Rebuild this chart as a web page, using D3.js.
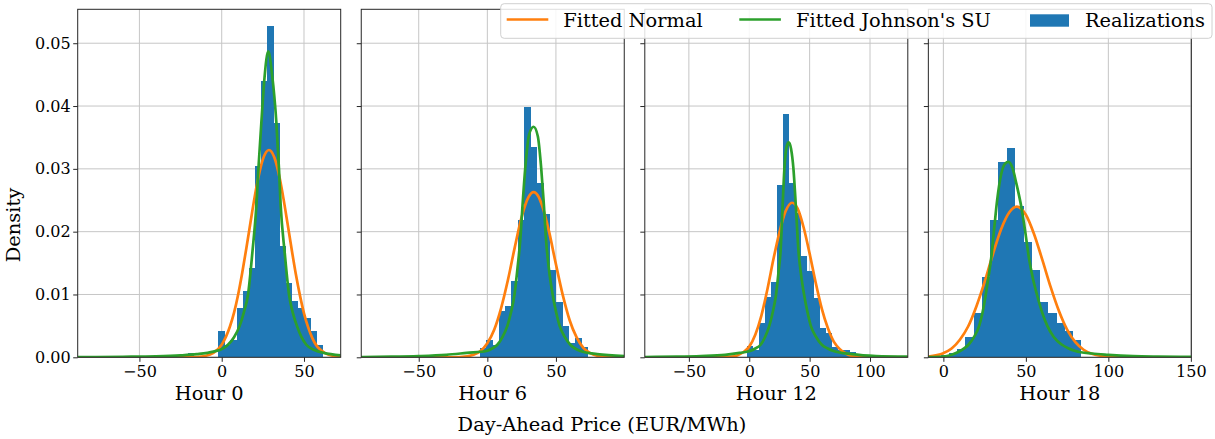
<!DOCTYPE html>
<html><head><meta charset="utf-8">
<script src="https://cdn.jsdelivr.net/npm/d3@7"></script>
<style>
html,body{margin:0;padding:0;background:#fff;}
text{font-family:"DejaVu Serif",serif;fill:#000;}
</style></head>
<body>
<svg id="chart" width="1215" height="439"></svg>
<script>
// ---------- data ----------
const panelTitles = ["Hour 0", "Hour 6", "Hour 12", "Hour 18"];
const xMin = [-87.5, -91.9, -86.5, -9.1];
const xMax = [72.3, 99.8, 131.3, 150.3];
const xTicks = [[-50, 0, 50], [-50, 0, 50], [-50, 0, 50, 100], [0, 50, 100, 150]];
const yTicks = [0, 0.01, 0.02, 0.03, 0.04, 0.05];
const yMax = 0.0554;

const histStart = [-20.7, -5.58, -2.2, -1.6];
const histWidth = [3.72, 4.63, 5.0, 5.0];
const hist0 = [0.0007, 0, 0, 0, 0, 0.0042, 0.0019, 0.0028, 0.0079, 0.0106, 0.0142, 0.0305, 0.0440, 0.0528, 0.0373, 0.0177, 0.0119, 0.0090, 0.0078, 0.0063, 0.0042, 0.0020];
const hist6 = [0.0015, 0.0028, 0.0020, 0.0073, 0.0081, 0.0122, 0.0219, 0.0399, 0.0334, 0.0277, 0.0228, 0.0139, 0.0088, 0.0050, 0.0022, 0.0031, 0.0017];
const hist12 = [0.0018, 0.0011, 0.0055, 0.0096, 0.0120, 0.0274, 0.0387, 0.0278, 0.0229, 0.0161, 0.0138, 0.0094, 0.0046, 0.0038, 0.0017, 0.0012, 0.0011, 0.0009];
const hist18 = [0.0003, 0.0007, 0.0013, 0.0033, 0.0071, 0.0128, 0.0218, 0.0311, 0.0333, 0.0241, 0.0183, 0.0139, 0.0088, 0.0071, 0.0055, 0.0042, 0.0028];

// fitted normal curves (x, density)
const normal0 = [[-87.5,0],[-30,0],[-15,0.00005],[-10,0.0002],[-5,0.0007],[0,0.0020],[5,0.0049],[7.5,0.0071],[10,0.0100],[12.5,0.0135],[15,0.0174],[17.5,0.0215],[20,0.0255],[22.5,0.0289],[25,0.0315],[28.7,0.0330],[32,0.0318],[35,0.0288],[37.5,0.0253],[40,0.0213],[42.5,0.0172],[45,0.0133],[47.5,0.0099],[50,0.0070],[52.5,0.0048],[55,0.0031],[57.5,0.0019],[60,0.0012],[65,0.0004],[72.3,0.00005]];
const normal6 = [[-91.9,0],[-30,0],[-20,0.00005],[-10,0.0004],[-5,0.0010],[0,0.00225],[5,0.0044],[10,0.0078],[15,0.0123],[20,0.0175],[25,0.0223],[30,0.0255],[33.7,0.0263],[37.5,0.0255],[40,0.0241],[45,0.0200],[50,0.0148],[55,0.0099],[60,0.0059],[65,0.0032],[70,0.0015],[75,0.00066],[80,0.00025],[85,0.00009],[99.8,0]];
const normal12 = [[-86.5,0],[-30,0.00001],[-15,0.0001],[-10,0.0003],[-5,0.0008],[0,0.0017],[5,0.0036],[10,0.0066],[15,0.0108],[20,0.0156],[25,0.0199],[30,0.0232],[35.5,0.0246],[40,0.0237],[45,0.0207],[50,0.0165],[55,0.0119],[60,0.0078],[65,0.0047],[70,0.0025],[75,0.0013],[80,0.0006],[85,0.0002],[95,0.00003],[131.3,0]];
const normal18 = [[-9.1,0.00013],[0,0.00066],[5,0.0014],[10,0.0028],[15,0.0049],[20,0.0081],[25,0.0120],[30,0.0164],[35,0.0204],[40,0.0231],[44.5,0.0240],[50,0.0227],[55,0.0196],[60,0.0155],[65,0.0112],[70,0.0074],[75,0.0044],[80,0.0024],[85,0.0012],[90,0.00056],[100,0.00009],[110,0.00001],[150.3,0]];

// fitted Johnson's SU curves (x, density)
const johnson0 = [[-87.5,0.00003],[-60,0.00008],[-40,0.00015],[-25,0.0003],[-15,0.0005],[-5,0.0009],[0,0.0013],[3.8,0.0020],[7.5,0.0032],[10.9,0.0050],[13.5,0.0072],[16.0,0.0100],[18.6,0.0166],[21.1,0.0243],[22.3,0.0300],[24.1,0.0374],[26.0,0.0445],[28.3,0.0487],[30.6,0.0450],[33.2,0.0374],[34.8,0.0300],[35.8,0.0243],[38.3,0.0166],[40.9,0.0100],[43.3,0.0070],[45.7,0.0050],[48.5,0.0032],[51.4,0.0020],[56,0.0012],[62,0.0007],[72.3,0.0003]];
const johnson6 = [[-91.9,0.00005],[-70,0.0001],[-50,0.0002],[-30,0.0004],[-15,0.0007],[-0.5,0.0010],[3.5,0.0014],[7.3,0.0020],[11,0.0032],[14.6,0.0050],[17.3,0.0072],[19.8,0.0100],[21.9,0.0140],[23.9,0.0184],[25.9,0.0250],[27.6,0.0300],[30.5,0.0355],[33.7,0.0367],[36.8,0.0352],[39.3,0.0300],[41.0,0.0250],[42.9,0.0184],[45.2,0.0135],[47.6,0.0100],[50.1,0.0072],[52.7,0.0050],[56.5,0.0032],[60.5,0.0020],[64,0.0014],[67.8,0.0010],[80,0.0005],[99.8,0.0002]];
const johnson12 = [[-86.5,0.00005],[-60,0.0001],[-40,0.0002],[-20,0.0004],[-8,0.0007],[0.6,0.0010],[5,0.0014],[9.4,0.0020],[13,0.0032],[16.6,0.0050],[19.5,0.0072],[22.2,0.0100],[24.2,0.0135],[26.0,0.0171],[27.6,0.0240],[29.1,0.0300],[30.9,0.0335],[32.7,0.0342],[34.6,0.0332],[36.6,0.0300],[38.6,0.0240],[40.7,0.0171],[43,0.0130],[45.4,0.0100],[48.2,0.0072],[51,0.0050],[55.5,0.0032],[60.1,0.0020],[65,0.0014],[69.8,0.0010],[85,0.0005],[105,0.0002],[131.3,0.0001]];
const johnson18 = [[-9.1,0.00002],[0,0.0001],[5,0.0004],[10.1,0.0010],[13,0.0015],[15.2,0.0020],[18.5,0.0032],[21.7,0.0050],[23.8,0.0072],[25.7,0.0100],[27.3,0.0127],[28.9,0.0156],[30.8,0.0205],[32.6,0.0250],[35,0.0291],[37.3,0.0308],[39.5,0.0311],[41.8,0.0302],[44.3,0.0276],[47.2,0.0240],[49.5,0.0202],[52.0,0.0156],[54.3,0.0125],[56.7,0.0100],[59.8,0.0072],[63.0,0.0050],[67,0.0032],[71.9,0.0020],[76,0.0014],[80,0.0010],[90,0.0006],[100,0.0004],[115,0.0002],[130,0.00012],[150.3,0.00007]];

const legendLabels = ["Fitted Normal", "Fitted Johnson's SU", "Realizations"];
const axisXLabel = "Day-Ahead Price (EUR/MWh)";
const axisYLabel = "Density";

// ---------- layout ----------
const colors = {bar: "#1f77b4", normal: "#ff7f0e", johnson: "#2ca02c", grid: "#c6c6c6", spine: "#262626"};
const hists = [hist0, hist6, hist12, hist18];
const normals = [normal0, normal6, normal12, normal18];
const johnsons = [johnson0, johnson6, johnson12, johnson18];

const plotTop = 9.3, plotBottom = 357.3, pw = 263, firstLeft = 77.7, step = 283.55;
const svg = d3.select("#chart");
const y = d3.scaleLinear().domain([0, yMax]).range([plotBottom, plotTop]);
const tickFont = "16px", labelFont = "19.4px";

panelTitles.forEach((title, i) => {
  const left = firstLeft + i * step;
  const x = d3.scaleLinear().domain([xMin[i], xMax[i]]).range([left, left + pw]);
  const g = svg.append("g");

  const clipId = "clip" + i;
  svg.append("clipPath").attr("id", clipId).append("rect")
    .attr("x", left).attr("y", plotTop).attr("width", pw).attr("height", plotBottom - plotTop);

  // grid
  g.append("g").selectAll("line").data(xTicks[i]).join("line")
    .attr("x1", d => x(d)).attr("x2", d => x(d)).attr("y1", plotTop).attr("y2", plotBottom)
    .attr("stroke", colors.grid).attr("stroke-width", 1);
  g.append("g").selectAll("line").data(yTicks).join("line")
    .attr("x1", left).attr("x2", left + pw).attr("y1", d => y(d)).attr("y2", d => y(d))
    .attr("stroke", colors.grid).attr("stroke-width", 1);

  // histogram
  const bins = hists[i].map((v, k) => ({x0: histStart[i] + k * histWidth[i], x1: histStart[i] + (k + 1) * histWidth[i], v}));
  g.append("g").attr("clip-path", `url(#${clipId})`).attr("shape-rendering", "crispEdges")
    .selectAll("rect").data(bins.filter(b => b.v > 0)).join("rect")
    .attr("x", d => x(d.x0)).attr("width", d => x(d.x1) - x(d.x0) + 0.5)
    .attr("y", d => y(d.v)).attr("height", d => y(0) - y(d.v))
    .attr("fill", colors.bar);

  const line = d3.line().x(d => x(d[0])).y(d => y(d[1])).curve(d3.curveMonotoneX);
  const lg = g.append("g").attr("clip-path", `url(#${clipId})`);
  lg.append("path").datum(normals[i]).attr("d", line).attr("fill", "none")
    .attr("stroke", colors.normal).attr("stroke-width", 2.7).attr("stroke-linejoin", "round");
  lg.append("path").datum(johnsons[i]).attr("d", line).attr("fill", "none")
    .attr("stroke", colors.johnson).attr("stroke-width", 2.7).attr("stroke-linejoin", "round");

  // axes
  const xa = d3.axisBottom(x).tickValues(xTicks[i]).tickSize(4.5).tickPadding(4.2)
    .tickFormat(d => d < 0 ? "\u2212" + Math.abs(d) : String(d));
  const xg = g.append("g").attr("transform", `translate(0,${plotBottom})`).call(xa);
  xg.select(".domain").remove();
  xg.selectAll("line").attr("stroke", colors.spine);
  xg.selectAll("text").attr("font-size", tickFont).attr("font-family", "DejaVu Serif").attr("fill", "#000");

  const ya = d3.axisLeft(y).tickValues(yTicks).tickSize(4.5).tickPadding(2.6)
    .tickFormat(i === 0 ? d3.format(".2f") : () => "");
  const yg = g.append("g").attr("transform", `translate(${left},0)`).call(ya);
  yg.select(".domain").remove();
  yg.selectAll("line").attr("stroke", colors.spine);
  yg.selectAll("text").attr("font-size", tickFont).attr("font-family", "DejaVu Serif").attr("fill", "#000");

  // frame
  g.append("rect").attr("x", left).attr("y", plotTop).attr("width", pw).attr("height", plotBottom - plotTop)
    .attr("fill", "none").attr("stroke", colors.spine).attr("stroke-width", 1);

  // panel label
  g.append("text").attr("x", left + pw / 2).attr("y", 400).attr("text-anchor", "middle")
    .attr("font-size", labelFont).text(title);
});

// figure labels
svg.append("text").attr("x", 602).attr("y", 431).attr("text-anchor", "middle")
  .attr("font-size", labelFont).text(axisXLabel);
svg.append("text").attr("transform", "translate(20,225) rotate(-90)").attr("text-anchor", "middle")
  .attr("font-size", labelFont).text(axisYLabel);

// legend
const leg = svg.append("g");
leg.append("rect").attr("x", 500.7).attr("y", 3.7).attr("width", 711.3).attr("height", 34.6)
  .attr("rx", 3.5).attr("fill", "#fff").attr("fill-opacity", 0.85).attr("stroke", "#d0d0d0").attr("stroke-width", 1);
const handleX = [506.7, 739.3, 1030];
const textX = [563.3, 796, 1085];
const legendColors = [colors.normal, colors.johnson, colors.bar];
legendLabels.forEach((lab, k) => {
  if (k < 2) {
    leg.append("line").attr("x1", handleX[k]).attr("x2", handleX[k] + 41.6).attr("y1", 19.5).attr("y2", 19.5)
      .attr("stroke", legendColors[k]).attr("stroke-width", 2.7);
  } else {
    leg.append("rect").attr("x", handleX[k]).attr("y", 14.3).attr("width", 39).attr("height", 12.4)
      .attr("fill", legendColors[k]);
  }
  leg.append("text").attr("x", textX[k]).attr("y", 26.5).attr("font-size", labelFont).text(lab);
});
</script>
</body></html>
